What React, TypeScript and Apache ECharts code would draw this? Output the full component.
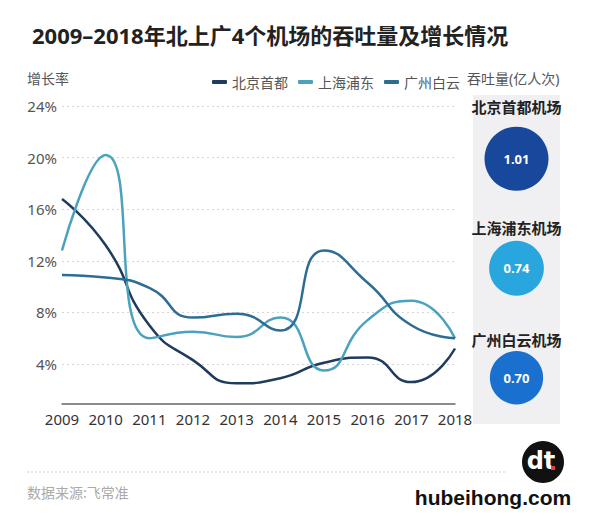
import React, { useEffect, useRef } from "react";
import * as echarts from "echarts";

const years = ["2009", "2010", "2011", "2012", "2013", "2014", "2015", "2016", "2017", "2018"];
const beijing = [16.8, 13.2, 7.0, 4.3, 2.5, 2.9, 4.1, 4.5, 2.6, 5.2];
const shanghai = [12.8, 20.2, 6.0, 6.5, 6.1, 7.6, 3.5, 7.4, 8.9, 6.0];
const guangzhou = [10.9, 10.7, 9.9, 7.6, 7.9, 6.6, 12.8, 10.3, 7.0, 6.0];
const seriesNames = ["北京首都", "上海浦东", "广州白云"];

const airports = ["北京首都机场", "上海浦东机场", "广州白云机场"];
const throughput = [1.01, 0.74, 0.7];

// styling
const lineColors = ["#1f3b5e", "#4ba2bd", "#2d6d93"];
const bubbleColors = ["#17489b", "#2aa6df", "#1a70cf"];
const nameDistances = [12, 5, 4];
const FONT = "'Noto Sans', 'Noto Sans CJK SC', sans-serif";

export default function App() {
  const ref = useRef<HTMLDivElement>(null);
  useEffect(() => {
    if (!ref.current) return;
    const chart = echarts.init(ref.current, undefined, { renderer: "svg" });
    const maxT = Math.max(...throughput);
    const lineSeries = [beijing, shanghai, guangzhou].map((d, i) => ({
      name: seriesNames[i],
      type: "line",
      data: d,
      smooth: 0.55,
      symbol: "none",
      xAxisIndex: 0,
      yAxisIndex: 0,
      lineStyle: { width: 2.5, color: lineColors[i] },
      itemStyle: { color: lineColors[i] },
      emphasis: { disabled: true },
    }));
    const bubbleData = airports.map((a, i) => ({
      name: a,
      value: [1, i, throughput[i]],
      symbolSize: 64 * Math.sqrt(throughput[i] / maxT),
      itemStyle: { color: bubbleColors[i], opacity: 1 },
      label: { distance: nameDistances[i] },
    }));
    chart.setOption({
      animation: false,
      textStyle: { fontFamily: FONT },
      title: {
        text: "2009–2018年北上广4个机场的吞吐量及增长情况",
        left: 27,
        top: 19,
        textStyle: { fontSize: 22, fontWeight: "bold", color: "#222", fontFamily: FONT },
      },
      legend: {
        data: seriesNames,
        left: 207,
        top: 70,
        icon: "roundRect",
        itemWidth: 15,
        itemHeight: 4,
        itemGap: 10,
        textStyle: { fontSize: 14, color: "#555", fontFamily: FONT },
      },
      grid: [
        { left: 62, right: 145, top: 106, bottom: 104.4 },
        { left: 473, right: 40, top: 104, bottom: 87.5 },
      ],
      xAxis: [
        {
          type: "category",
          data: years,
          boundaryGap: false,
          offset: -12,
          axisLine: { show: true, onZero: false, lineStyle: { color: "#666", width: 1.5 } },
          axisTick: { show: false },
          axisLabel: { color: "#333", fontSize: 15, margin: 8, interval: 0 },
          splitLine: { show: false },
        },
        { type: "value", gridIndex: 1, min: 0, max: 2, show: false },
      ],
      yAxis: [
        {
          type: "value",
          min: 0,
          max: 24,
          interval: 4,
          axisLine: { show: false },
          axisTick: { show: false },
          axisLabel: { formatter: "{value}%", color: "#555", fontSize: 15, margin: 5, showMinLabel: false },
          splitLine: { show: true, showMinLine: false, lineStyle: { color: "#d6d6d6", type: [2, 3], width: 1 } },
        },
        {
          type: "category",
          gridIndex: 1,
          data: airports,
          inverse: true,
          show: false,
        },
      ],
      graphic: [
        {
          type: "rect",
          shape: { x: 473, y: 95, width: 87, height: 329 },
          style: { fill: "#f0f0f3" },
          z: -10,
        },
        {
          type: "text",
          x: 27,
          y: 78,
          style: { text: "增长率", fill: "#555", font: `14px ${FONT}`, verticalAlign: "middle" },
        },
        {
          type: "text",
          x: 467,
          y: 78,
          style: { text: "吞吐量(亿人次)", fill: "#555", font: `14px ${FONT}`, verticalAlign: "middle" },
        },
        {
          type: "line",
          shape: { x1: 27, y1: 472, x2: 507, y2: 472 },
          style: { stroke: "#cfcfcf", lineWidth: 1, lineDash: [2, 2] },
        },
        {
          type: "text",
          x: 27,
          y: 492,
          style: { text: "数据来源:飞常准", fill: "#aaa", font: `14px ${FONT}`, verticalAlign: "middle" },
        },
        {
          type: "circle",
          shape: { cx: 543, cy: 462, r: 21 },
          style: { fill: "#111" },
        },
        {
          type: "text",
          x: 541,
          y: 461,
          style: {
            text: "dt",
            fill: "#fff",
            font: "bold 24px 'DejaVu Sans', sans-serif",
            align: "center",
            verticalAlign: "middle",
          },
        },
        {
          type: "rect",
          shape: { x: 551, y: 466, width: 4, height: 4 },
          style: { fill: "#e0443a" },
        },
        {
          type: "text",
          x: 493,
          y: 497,
          style: {
            text: "hubeihong.com",
            fill: "#111",
            font: "bold 21px 'Liberation Sans', sans-serif",
            align: "center",
            verticalAlign: "middle",
          },
        },
      ],
      series: [
        ...lineSeries,
        {
          type: "scatter",
          xAxisIndex: 1,
          yAxisIndex: 1,
          data: bubbleData,
          silent: true,
          label: {
            show: true,
            position: "top",
            distance: 6,
            formatter: "{b}",
            color: "#222",
            fontSize: 15,
            fontWeight: "bold",
            fontFamily: FONT,
          },
          z: 5,
        },
        {
          type: "scatter",
          xAxisIndex: 1,
          yAxisIndex: 1,
          data: bubbleData.map((b) => ({ ...b, label: undefined, itemStyle: { color: "rgba(0,0,0,0)", opacity: 1 } })),
          silent: true,
          label: {
            show: true,
            position: "inside",
            formatter: (p: any) => p.value[2].toFixed(2),
            color: "#fff",
            fontSize: 13,
            fontWeight: "bold",
            fontFamily: FONT,
          },
          z: 6,
        },
      ],
    });
    return () => chart.dispose();
  }, []);
  return (
    <div
      ref={ref}
      style={{ position: "absolute", left: 0, top: 0, width: 600, height: 520, background: "#fff" }}
    />
  );
}
